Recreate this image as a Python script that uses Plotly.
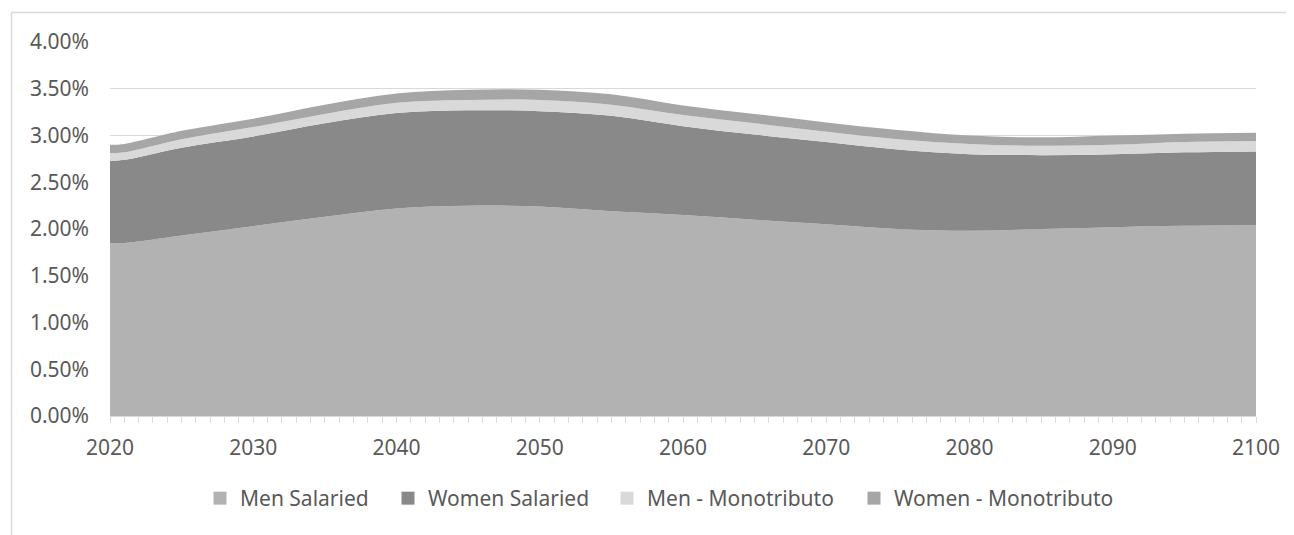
import plotly.graph_objects as go

years = [2020, 2021, 2025, 2030, 2035, 2040, 2045, 2050, 2055, 2060,
         2065, 2070, 2075, 2080, 2085, 2090, 2095, 2100]

# values in percent
men_salaried = [1.85, 1.85, 1.93, 2.03, 2.13, 2.22, 2.25, 2.24, 2.19, 2.15,
                2.10, 2.05, 2.00, 1.98, 2.00, 2.02, 2.035, 2.04]
women_salaried = [0.88, 0.89, 0.94, 0.96, 1.00, 1.02, 1.02, 1.02, 1.02, 0.95,
                  0.91, 0.88, 0.85, 0.82, 0.79, 0.78, 0.785, 0.79]
men_monotributo = [0.08, 0.08, 0.09, 0.10, 0.10, 0.11, 0.11, 0.12, 0.12, 0.12,
                   0.12, 0.11, 0.11, 0.11, 0.10, 0.10, 0.11, 0.11]
women_monotributo = [0.09, 0.09, 0.09, 0.09, 0.10, 0.10, 0.11, 0.11, 0.11, 0.10,
                     0.10, 0.10, 0.10, 0.09, 0.09, 0.10, 0.09, 0.09]

series_names = ["Men Salaried", "Women Salaried", "Men - Monotributo", "Women - Monotributo"]
series_values = [men_salaried, women_salaried, men_monotributo, women_monotributo]
series_colors = ["#B2B2B2", "#898989", "#D9D9D9", "#A6A6A6"]

FONT = "Noto Sans"
TXT = "#595959"
GRID = "#D9D9D9"
FS = 21

# page has an 8px body margin; target screen coordinates below
OFF = 8
W, H = 1294, 535
x0, x1 = 110 - OFF, 1256 - OFF
y0, y1 = 416 - OFF, 42 - OFF


def px_x(p):
    return (p - OFF - x0) / (x1 - x0)


def px_y(p):
    return (y0 - (p - OFF)) / (y0 - y1)


fig = go.Figure()
for name, vals, col in zip(series_names, series_values, series_colors):
    fig.add_trace(go.Scatter(
        x=years, y=[v / 100 for v in vals], name=name,
        mode="lines", stackgroup="one",
        line=dict(width=0, color=col, shape="spline", smoothing=1.0),
        fillcolor=col, showlegend=False, hoverinfo="skip",
    ))

# legend entries with square markers, each in its own legend box
legend_ids = ["legend", "legend2", "legend3", "legend4"]
legend_left = [200, 388, 607, 854]
for name, col, lid in zip(series_names, series_colors, legend_ids):
    fig.add_trace(go.Scatter(
        x=[None], y=[None], name=name, mode="markers",
        marker=dict(symbol="square", size=13, color=col),
        showlegend=True, legend=lid,
    ))

legend_layouts = {}
for lid, lx in zip(legend_ids, legend_left):
    legend_layouts[lid] = dict(
        orientation="h", x=px_x(lx), y=px_y(478), xanchor="left", yanchor="top",
        font=dict(family=FONT, size=FS, color=TXT),
        itemwidth=30, bgcolor="rgba(0,0,0,0)",
    )

fig.update_layout(
    width=W, height=H,
    margin=dict(l=x0, r=W - x1, t=y1, b=H - y0, pad=0),
    paper_bgcolor="white", plot_bgcolor="white",
    font=dict(family=FONT, size=FS, color=TXT),
    showlegend=True,
    **legend_layouts,
    xaxis=dict(
        range=[2020, 2100], tickmode="array",
        tickvals=list(range(2020, 2101, 10)),
        ticktext=[str(y) for y in range(2020, 2101, 10)],
        showgrid=False, zeroline=False,
        showline=True, linecolor=GRID, linewidth=1,
        ticks="outside", ticklen=6, tickcolor=GRID, tickwidth=1,
        minor=dict(dtick=1, tick0=2020, ticks="outside", ticklen=6, tickcolor=GRID, tickwidth=1, showgrid=False),
        ticklabelstandoff=7,
        tickfont=dict(family=FONT, size=FS, color=TXT),
    ),
    yaxis=dict(
        range=[0, 0.04], dtick=0.005, tick0=0, tickformat=".2%",
        showgrid=True, gridcolor=GRID, gridwidth=1,
        zeroline=False, showline=False, ticks="",
        ticklabelstandoff=20,
        tickfont=dict(family=FONT, size=FS, color=TXT),
    ),
    shapes=[dict(
        type="rect", xref="paper", yref="paper",
        x0=px_x(11.5), x1=px_x(1400), y0=px_y(600), y1=px_y(12.5),
        line=dict(color=GRID, width=1.5), fillcolor="rgba(0,0,0,0)", layer="below",
    )],
)

fig.write_html("out.html")
